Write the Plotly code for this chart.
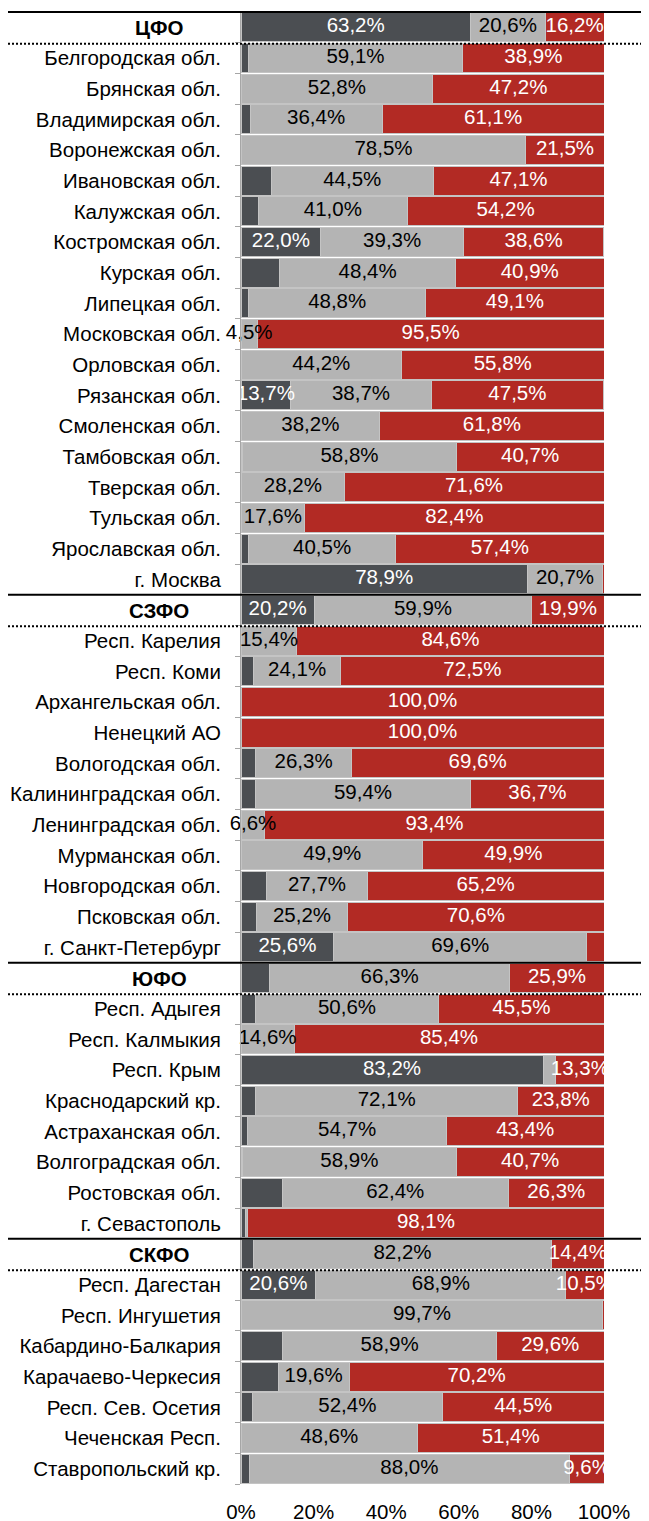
import plotly.graph_objects as go

categories = [
    "ЦФО", "Белгородская обл.", "Брянская обл.", "Владимирская обл.", "Воронежская обл.",
    "Ивановская обл.", "Калужская обл.", "Костромская обл.", "Курская обл.", "Липецкая обл.",
    "Московская обл.", "Орловская обл.", "Рязанская обл.", "Смоленская обл.", "Тамбовская обл.",
    "Тверская обл.", "Тульская обл.", "Ярославская обл.", "г. Москва",
    "СЗФО", "Респ. Карелия", "Респ. Коми", "Архангельская обл.", "Ненецкий АО",
    "Вологодская обл.", "Калининградская обл.", "Ленинградская обл.", "Мурманская обл.",
    "Новгородская обл.", "Псковская обл.", "г. Санкт-Петербург",
    "ЮФО", "Респ. Адыгея", "Респ. Калмыкия", "Респ. Крым", "Краснодарский кр.",
    "Астраханская обл.", "Волгоградская обл.", "Ростовская обл.", "г. Севастополь",
    "СКФО", "Респ. Дагестан", "Респ. Ингушетия", "Кабардино-Балкария", "Карачаево-Черкесия",
    "Респ. Сев. Осетия", "Чеченская Респ.", "Ставропольский кр.",
]
headers = ["ЦФО", "СЗФО", "ЮФО", "СКФО"]

dark = [
    63.2, 2.0, 0.0, 2.5, 0.0, 8.4, 4.8, 22.0, 10.7, 2.1, 0.0, 0.0, 13.7, 0.0, 0.5, 0.2, 0.0, 2.1, 78.9,
    20.2, 0.0, 3.4, 0.0, 0.0, 4.1, 3.9, 0.0, 0.2, 7.1, 4.2, 25.6,
    7.8, 3.9, 0.0, 83.2, 4.1, 1.9, 0.4, 11.3, 1.3,
    3.4, 20.6, 0.0, 11.5, 10.2, 3.1, 0.0, 2.4,
]
light = [
    20.6, 59.1, 52.8, 36.4, 78.5, 44.5, 41.0, 39.3, 48.4, 48.8, 4.5, 44.2, 38.7, 38.2, 58.8, 28.2, 17.6, 40.5, 20.7,
    59.9, 15.4, 24.1, 0.0, 0.0, 26.3, 59.4, 6.6, 49.9, 27.7, 25.2, 69.6,
    66.3, 50.6, 14.6, 3.5, 72.1, 54.7, 58.9, 62.4, 0.6,
    82.2, 68.9, 99.7, 58.9, 19.6, 52.4, 48.6, 88.0,
]
red = [
    16.2, 38.9, 47.2, 61.1, 21.5, 47.1, 54.2, 38.6, 40.9, 49.1, 95.5, 55.8, 47.5, 61.8, 40.7, 71.6, 82.4, 57.4, 0.4,
    19.9, 84.6, 72.5, 100.0, 100.0, 69.6, 36.7, 93.4, 49.9, 65.2, 70.6, 4.8,
    25.9, 45.5, 85.4, 13.3, 23.8, 43.4, 40.7, 26.3, 98.1,
    14.4, 10.5, 0.3, 29.6, 70.2, 44.5, 51.4, 9.6,
]
x_ticks = [0, 20, 40, 60, 80, 100]

DARK, LIGHT, RED = "#4b4e52", "#b4b4b4", "#b22a24"
FONT = "Liberation Sans"
FS = 20.5


def fmt(v, thr):
    return (f"{v:.1f}".replace(".", ",") + "%") if v >= thr else ""


fig = go.Figure()
for vals, col in [(dark, DARK), (light, LIGHT), (red, RED)]:
    fig.add_trace(go.Bar(
        y=categories, x=vals, orientation="h",
        marker=dict(color=col, line=dict(color="#c4c4c4", width=1)),
        hoverinfo="skip",
    ))

# value labels on top of all bars
wx, wy, wt = [], [], []
bx, by, bt = [], [], []
for c, d, l, r in zip(categories, dark, light, red):
    wx += [d / 2, d + l + r / 2]
    wy += [c, c]
    wt += [fmt(d, 13), fmt(r, 9)]
    bx.append(d + l / 2)
    by.append(c)
    bt.append(fmt(l, 4.5))

fig.add_trace(go.Scatter(x=wx, y=wy, text=wt, mode="text", textposition="middle center",
                         textfont=dict(color="white", size=FS, family=FONT),
                         cliponaxis=True, hoverinfo="skip"))
fig.add_trace(go.Scatter(x=bx, y=by, text=bt, mode="text", textposition="middle center",
                         textfont=dict(color="black", size=FS, family=FONT),
                         cliponaxis=False, hoverinfo="skip"))

n = len(categories)
ticktext = ["" if c in headers else c for c in categories]

shapes = []
annotations = []
PW = 363.0
x_left_solid = (7 - 241) / PW
x_left_dot = (8 - 241) / PW
x_right = (649 - 241) / PW
for h in headers:
    k = categories.index(h)
    y_top = 1 - k / n
    y_bot = 1 - (k + 1) / n - 0.0007
    shapes.append(dict(type="line", xref="paper", yref="paper", x0=x_left_solid, x1=x_right,
                       y0=y_top, y1=y_top, line=dict(color="black", width=2)))
    shapes.append(dict(type="line", xref="paper", yref="paper", x0=x_left_dot, x1=x_right,
                       y0=y_bot, y1=y_bot, line=dict(color="black", width=2, dash="2px,2px")))
    annotations.append(dict(text=f"<b>{h}</b>", xref="paper", yref="y", x=(159 - 241) / PW, y=h,
                            xanchor="center", yanchor="middle", showarrow=False,
                            font=dict(family=FONT, size=FS, color="black")))

fig.update_layout(
    barmode="stack", bargap=0.05, showlegend=False,
    width=641, height=1513,
    margin=dict(l=233, r=45, t=4, b=37, pad=0, autoexpand=False),
    paper_bgcolor="white", plot_bgcolor="white",
    font=dict(family=FONT, size=FS, color="black"),
    shapes=shapes, annotations=annotations,
    xaxis=dict(range=[0, 100], tickmode="array", tickvals=x_ticks,
               ticktext=[f"{t}%" for t in x_ticks], automargin=False,
               showgrid=False, zeroline=False, showline=False, ticks="",
               ticklabelstandoff=13,
               tickfont=dict(family=FONT, size=FS, color="black"), fixedrange=True),
    yaxis=dict(type="category", range=[n - 0.5, -0.5], tickmode="array", automargin=False,
               tickvals=categories, ticktext=ticktext, showgrid=False, zeroline=False,
               showline=True, linecolor="#a6a6a6", linewidth=1,
               ticks="outside", tickson="boundaries", ticklen=5, tickcolor="#a6a6a6",
               ticklabelstandoff=15,
               tickfont=dict(family=FONT, size=FS, color="black"), fixedrange=True),
)

fig.write_html("out.html")
